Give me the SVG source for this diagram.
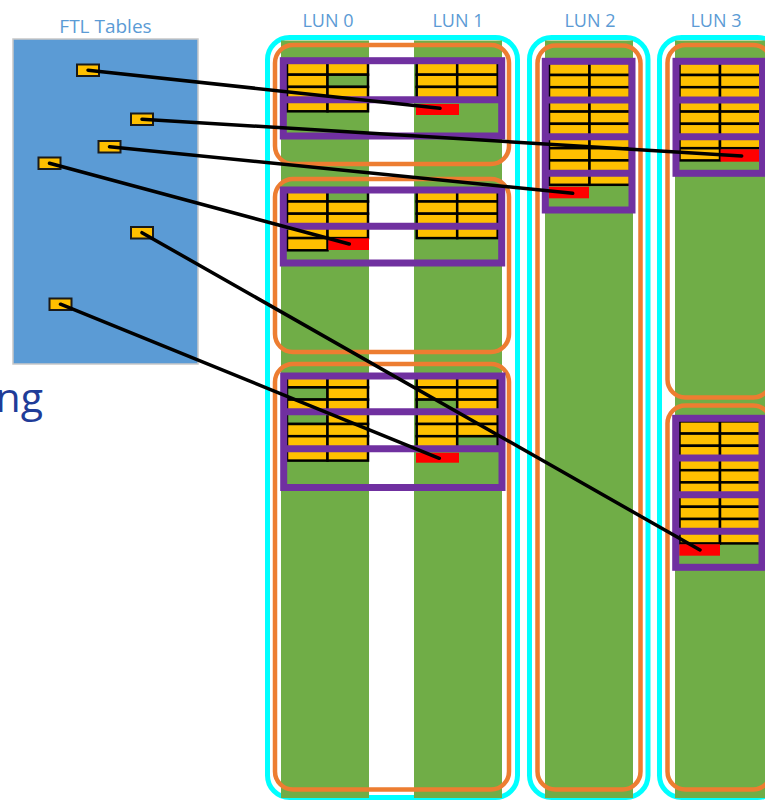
<svg xmlns="http://www.w3.org/2000/svg" width="765" height="800" viewBox="0 0 765 800">
  <style>
    .lbl { font-family: "Open Sans", "Liberation Sans", sans-serif; font-size: 18px; fill: #5B9BD5; text-anchor: middle; }
    .ttl { font-size: 19px; }
    .big { font-family: "Open Sans", "Liberation Sans", sans-serif; font-size: 41px; fill: #1F3C98; text-anchor: end; }
    .lun { fill: none; stroke: #00FFFF; stroke-width: 5; }
    .plane { fill: #70AD47; }
    .blk { fill: none; stroke: #ED7D31; stroke-width: 4.5; }
    .pg { fill: none; stroke: #7030A0; stroke-width: 7; }
    .y { fill: #FFC000; stroke: #000; stroke-width: 2.5; }
    .g { fill: #70AD47; stroke: #000; stroke-width: 2.5; }
    .r { fill: #FF0000; }
    .ent { fill: #FFC000; stroke: #1A1A1A; stroke-width: 2; }
    .link { stroke: #000; stroke-width: 3.5; stroke-linecap: round; fill: none; }
  </style>
  <defs>
    <!-- one row of two sectors: both written, or one of them free -->
    <g id="yy"><rect class="y" x="0" y="0" width="40.5" height="12.2"/><rect class="y" x="40.5" y="0" width="40.5" height="12.2"/></g>
    <g id="yg"><rect class="y" x="0" y="0" width="40.5" height="12.2"/><rect class="g" x="40.5" y="0" width="40.5" height="12.2"/></g>
    <g id="gy"><rect class="g" x="0" y="0" width="40.5" height="12.2"/><rect class="y" x="40.5" y="0" width="40.5" height="12.2"/></g>
    <rect id="y1" class="y" x="0" y="0" width="40.5" height="12.2"/>
  </defs>

  <!-- host-side mapping tables -->
  <g id="ftl-tables">
    <text class="lbl ttl" x="105.5" y="33">FTL Tables</text>
    <rect x="13" y="39" width="185" height="325" fill="#5B9BD5" stroke="#C8C8C8" stroke-width="1.5"/>
    <rect class="ent" x="77" y="64.5" width="22" height="11.5"/>
    <rect class="ent" x="131" y="113.5" width="22" height="11.5"/>
    <rect class="ent" x="98.5" y="141" width="22" height="11.5"/>
    <rect class="ent" x="38.5" y="157.5" width="22" height="11.5"/>
    <rect class="ent" x="131" y="227" width="22" height="11.5"/>
    <rect class="ent" x="49.5" y="298.5" width="22" height="11.5"/>
  </g>

  <text class="big" x="43" y="412">ng</text>

  <!-- LUN 0 and LUN 1 share one channel -->
  <g id="lun0-1">
    <text class="lbl" x="328" y="27">LUN 0</text>
    <text class="lbl" x="458" y="27">LUN 1</text>
    <rect class="lun" x="267.5" y="37.5" width="250" height="760" rx="22"/>
    <rect class="plane" x="281" y="40.5" width="88" height="757.5"/>
    <rect class="plane" x="414" y="40.5" width="88" height="757.5"/>

    <g id="blk01-a">
      <rect class="blk" x="275" y="45" width="234" height="119" rx="18"/>
      <use href="#yy" x="287" y="62.5"/>
      <use href="#yg" x="287" y="74.7"/>
      <use href="#yy" x="287" y="86.9"/>
      <use href="#yy" x="287" y="99.1"/>
      <use href="#yy" x="416.7" y="62.5"/>
      <use href="#yy" x="416.7" y="74.7"/>
      <use href="#yy" x="416.7" y="86.9"/>
      <rect class="r" x="416" y="104" width="43" height="11"/>
      <rect class="pg" x="283.3" y="60.7" width="218.4" height="75.3"/>
      <line class="pg" x1="283.3" y1="99.7" x2="501.7" y2="99.7"/>
    </g>

    <g id="blk01-b">
      <rect class="blk" x="275" y="179" width="234" height="173" rx="18"/>
      <use href="#yg" x="287" y="189.3"/>
      <use href="#yy" x="287" y="201.5"/>
      <use href="#yy" x="287" y="213.7"/>
      <use href="#yy" x="287" y="225.9"/>
      <use href="#y1" x="287" y="238.1"/>
      <rect class="r" x="328.3" y="238.3" width="40.7" height="11.7"/>
      <use href="#yy" x="416.7" y="189.3"/>
      <use href="#yy" x="416.7" y="201.5"/>
      <use href="#yy" x="416.7" y="213.7"/>
      <use href="#yy" x="416.7" y="225.9"/>
      <rect class="pg" x="283.3" y="190" width="218.4" height="73"/>
      <line class="pg" x1="283.3" y1="226.3" x2="501.7" y2="226.3"/>
    </g>

    <g id="blk01-c">
      <rect class="blk" x="275" y="364" width="234" height="425.5" rx="18"/>
      <use href="#yy" x="287" y="375.2"/>
      <use href="#gy" x="287" y="387.4"/>
      <use href="#yy" x="287" y="399.6"/>
      <use href="#gy" x="287" y="411.8"/>
      <use href="#yy" x="287" y="424"/>
      <use href="#yy" x="287" y="436.2"/>
      <use href="#yy" x="287" y="448.4"/>
      <use href="#yy" x="416.7" y="375.2"/>
      <use href="#yy" x="416.7" y="387.4"/>
      <use href="#gy" x="416.7" y="399.6"/>
      <use href="#yy" x="416.7" y="411.8"/>
      <use href="#yy" x="416.7" y="424"/>
      <use href="#yg" x="416.7" y="436.2"/>
      <rect class="r" x="416" y="452.7" width="43" height="10"/>
      <rect class="pg" x="283.7" y="376" width="218.3" height="111.5"/>
      <line class="pg" x1="283.7" y1="411.7" x2="502" y2="411.7"/>
      <line class="pg" x1="283.7" y1="448.7" x2="502" y2="448.7"/>
    </g>
  </g>

  <!-- LUN 2 -->
  <g id="lun2">
    <text class="lbl" x="590" y="27">LUN 2</text>
    <rect class="lun" x="529.5" y="37.5" width="118.5" height="760" rx="22"/>
    <rect class="plane" x="545" y="40.5" width="88" height="757.5"/>
    <g id="blk2-a">
      <rect class="blk" x="537.5" y="45.5" width="103" height="744" rx="18"/>
      <use href="#yy" x="549" y="62.8"/>
      <use href="#yy" x="549" y="75"/>
      <use href="#yy" x="549" y="87.2"/>
      <use href="#yy" x="549" y="99.4"/>
      <use href="#yy" x="549" y="111.6"/>
      <use href="#yy" x="549" y="123.8"/>
      <use href="#yy" x="549" y="136"/>
      <use href="#yy" x="549" y="148.2"/>
      <use href="#yy" x="549" y="160.4"/>
      <use href="#yy" x="549" y="172.6"/>
      <rect class="r" x="549" y="186.7" width="40" height="11.6"/>
      <rect class="pg" x="545.3" y="61.3" width="86.7" height="148.7"/>
      <line class="pg" x1="545.3" y1="100" x2="632" y2="100"/>
      <line class="pg" x1="545.3" y1="136.7" x2="632" y2="136.7"/>
      <line class="pg" x1="545.3" y1="173.3" x2="632" y2="173.3"/>
    </g>
  </g>

  <!-- LUN 3 -->
  <g id="lun3">
    <text class="lbl" x="716" y="27">LUN 3</text>
    <rect class="lun" x="659.5" y="37.5" width="120" height="760" rx="22"/>
    <rect class="plane" x="675" y="40.5" width="90" height="757.5"/>
    <g id="blk3-a">
      <rect class="blk" x="667.5" y="45" width="103.5" height="352.5" rx="18"/>
      <use href="#yy" x="679.5" y="62.8"/>
      <use href="#yy" x="679.5" y="75"/>
      <use href="#yy" x="679.5" y="87.2"/>
      <use href="#yy" x="679.5" y="99.4"/>
      <use href="#yy" x="679.5" y="111.6"/>
      <use href="#yy" x="679.5" y="123.8"/>
      <use href="#yy" x="679.5" y="136"/>
      <use href="#y1" x="679.5" y="148.2"/>
      <rect class="r" x="720.5" y="149.3" width="39" height="12.4"/>
      <rect class="pg" x="676" y="61.3" width="86.5" height="112"/>
      <line class="pg" x1="676" y1="100" x2="762.5" y2="100"/>
      <line class="pg" x1="676" y1="136.7" x2="762.5" y2="136.7"/>
    </g>
    <g id="blk3-b">
      <rect class="blk" x="667.5" y="405.5" width="103.5" height="384" rx="18"/>
      <use href="#yy" x="679.5" y="421.4"/>
      <use href="#yy" x="679.5" y="433.6"/>
      <use href="#yy" x="679.5" y="445.8"/>
      <use href="#yy" x="679.5" y="458"/>
      <use href="#yy" x="679.5" y="470.2"/>
      <use href="#yy" x="679.5" y="482.4"/>
      <use href="#yy" x="679.5" y="494.6"/>
      <use href="#yy" x="679.5" y="506.8"/>
      <use href="#yy" x="679.5" y="519"/>
      <use href="#yy" x="679.5" y="531.2"/>
      <rect class="r" x="679.3" y="544.3" width="40.7" height="11.4"/>
      <rect class="pg" x="675.7" y="418.3" width="86.3" height="149"/>
      <line class="pg" x1="675.7" y1="458" x2="762" y2="458"/>
      <line class="pg" x1="675.7" y1="494.7" x2="762" y2="494.7"/>
      <line class="pg" x1="675.7" y1="531.3" x2="762" y2="531.3"/>
    </g>
  </g>

  <!-- table entries pointing at their physical sectors -->
  <g id="connectors">
    <line class="link" x1="88" y1="70.2" x2="440" y2="108.3"/>
    <line class="link" x1="142" y1="119.2" x2="741.7" y2="156"/>
    <line class="link" x1="109.5" y1="146.7" x2="572.7" y2="193.3"/>
    <line class="link" x1="49.5" y1="163.2" x2="349.3" y2="244"/>
    <line class="link" x1="142" y1="232.7" x2="700" y2="550"/>
    <line class="link" x1="60.5" y1="304.2" x2="439.3" y2="458.3"/>
  </g>
</svg>
